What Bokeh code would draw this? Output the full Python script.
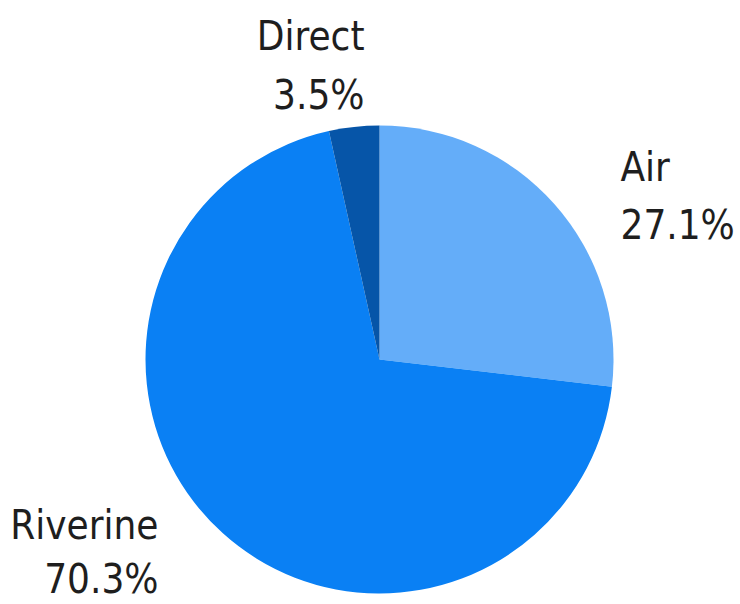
import math
from bokeh.plotting import figure
from bokeh.models import Range1d, ColumnDataSource
from bokeh.core.properties import value
from bokeh.embed import file_html
from bokeh.resources import INLINE

categories = ["Air", "Riverine", "Direct"]
shares = [27.1, 70.3, 3.5]
colors = ["#64adf9", "#0a80f4", "#0655a8"]

W, H = 740, 604
p = figure(width=W, height=H, output_backend="svg", toolbar_location=None,
           x_range=Range1d(0, W), y_range=Range1d(0, H), min_border=0)
p.axis.visible = False
p.grid.visible = False
p.outline_line_color = None
p.background_fill_color = "white"
p.border_fill_color = "white"

cx, cy, r = 379, H - 359, 234
total = sum(shares)
starts, ends = [], []
acc = 0.0
for s in shares:
    a0 = math.pi / 2 - acc / total * 2 * math.pi
    acc += s
    a1 = math.pi / 2 - acc / total * 2 * math.pi
    starts.append(a0)
    ends.append(a1)

src = ColumnDataSource(dict(start=starts, end=ends, color=colors))
p.wedge(x=cx, y=cy, radius=r, start_angle="start", end_angle="end",
        direction="clock", fill_color="color", line_color=None, source=src)

# label layout: (x, baseline y name, baseline y pct, align)
layout = {
    "Air": (620, 166, 224, "left"),
    "Riverine": (158, 524, 578, "right"),
    "Direct": (364, 35, 94, "right"),
}
font = value("DejaVu Sans Condensed")
for name, s in zip(categories, shares):
    x, y1, y2, al = layout[name]
    p.text(x=[x], y=[H - y1], text=[name], text_font=font, text_font_size="40px",
           text_align=al, text_baseline="alphabetic", text_color="#1e1e1e")
    p.text(x=[x], y=[H - y2], text=[f"{s:.1f}%"], text_font=font, text_font_size="40px",
           text_align=al, text_baseline="alphabetic", text_color="#1e1e1e")

open("out.html", "w").write(file_html(p, INLINE))
